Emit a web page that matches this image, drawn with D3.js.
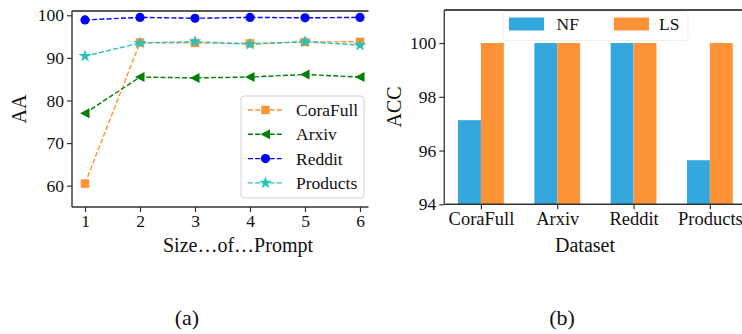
<!doctype html>
<html>

<head>
  <meta charset="utf-8">
  <title>AA and ACC</title>
  <style>
    body { margin: 0; background: #fff; }
    text { font-family: "Liberation Serif", "DejaVu Serif", serif; fill: #111; }
  </style>
</head>

<body>
  <script src="https://d3js.org/d3.v7.min.js"></script>
  <script>
    // ---- data (a) ----
    var promptSizes = [1, 2, 3, 4, 5, 6];
    var coraFullAA = [60.5, 93.6, 93.5, 93.4, 93.7, 93.8];
    var arxivAA = [77.0, 85.5, 85.3, 85.5, 86.1, 85.5];
    var redditAA = [98.9, 99.5, 99.3, 99.5, 99.4, 99.5];
    var productsAA = [90.4, 93.5, 93.8, 93.2, 93.8, 93.0];
    var aaTicks = [60, 70, 80, 90, 100];

    // ---- data (b) ----
    var datasets = ['CoraFull', 'Arxiv', 'Reddit', 'Products'];
    var nfAcc = [97.13, 100, 100, 95.64];
    var lsAcc = [100, 100, 100, 100];
    var accTicks = [94, 96, 98, 100];

    var W = 742, H = 334;
    var svg = d3.select('body').append('svg')
      .attr('width', W).attr('height', H);

    var serif = '"Liberation Serif", "DejaVu Serif", serif';

    // ================= (a) line chart =================
    var A = { left: 72, right: 368, top: 11, bottom: 207 };
    var xA = d3.scaleLinear().domain([0.75, 6.25]).range([71.25, 373.75]);
    var yA = d3.scaleLinear().domain([55, 101]).range([A.bottom, A.top]);

    // the subfigure is cut off on the right, like the original
    svg.append('clipPath').attr('id', 'clipA')
      .append('rect').attr('x', 0).attr('y', 0).attr('width', 368.5).attr('height', H);

    var gA = svg.append('g').attr('clip-path', 'url(#clipA)');

    var series = [
      { name: 'CoraFull', vals: coraFullAA, color: '#ff9234', marker: 'square' },
      { name: 'Arxiv', vals: arxivAA, color: '#008000', marker: 'tri' },
      { name: 'Reddit', vals: redditAA, color: '#0000ff', marker: 'circle' },
      { name: 'Products', vals: productsAA, color: '#26c4b8', marker: 'star' }
    ];

    function markerPath(kind) {
      if (kind == 'square') return d3.symbol(d3.symbolSquare, 72)();
      if (kind == 'circle') return d3.symbol(d3.symbolCircle, 66)();
      if (kind == 'star') return d3.symbol(d3.symbolStar, 50)();
      return 'M-5,0L4.5,-5L4.5,5Z';
    }

    var line = d3.line().x(function(d, i) { return xA(promptSizes[i]); }).y(function(d) { return yA(d); });

    series.forEach(function(s) {
      gA.append('path')
        .attr('d', line(s.vals))
        .attr('fill', 'none')
        .attr('stroke', s.color)
        .attr('stroke-width', 1.4)
        .attr('stroke-dasharray', '5,2.2');
      gA.selectAll(null).data(s.vals).enter().append('path')
        .attr('d', markerPath(s.marker))
        .attr('transform', function(d, i) { return 'translate(' + xA(promptSizes[i]) + ',' + yA(d) + ')'; })
        .attr('fill', s.color);
    });

    // spines
    gA.append('line').attr('x1', A.left).attr('x2', 380).attr('y1', A.top).attr('y2', A.top)
      .attr('stroke', '#222').attr('stroke-width', 1.4);
    gA.append('line').attr('x1', A.left).attr('x2', 380).attr('y1', A.bottom).attr('y2', A.bottom)
      .attr('stroke', '#333').attr('stroke-width', 1.4);
    gA.append('line').attr('x1', A.left).attr('x2', A.left).attr('y1', A.top).attr('y2', A.bottom)
      .attr('stroke', '#333').attr('stroke-width', 1.4);

    var axA_x = svg.append('g').attr('transform', 'translate(0,' + A.bottom + ')')
      .call(d3.axisBottom(xA).tickValues(promptSizes).tickSize(5).tickPadding(3).tickFormat(d3.format('d')));
    var axA_y = svg.append('g').attr('transform', 'translate(' + A.left + ',0)')
      .call(d3.axisLeft(yA).tickValues(aaTicks).tickSize(5).tickPadding(3));

    [axA_x, axA_y].forEach(function(ax) {
      ax.attr('font-family', serif).attr('font-size', 17.5);
      ax.select('.domain').remove();
      ax.selectAll('line').attr('stroke', '#333').attr('stroke-width', 1.2);
      ax.selectAll('text').style('font-family', serif).style('font-size', '17.5px').attr('fill', '#111');
    });

    svg.append('text').attr('x', 238).attr('y', 252).attr('text-anchor', 'middle')
      .style('font-size', '20px').text('Size\u2026of\u2026Prompt');
    svg.append('text').attr('transform', 'translate(26,109) rotate(-90)').attr('text-anchor', 'middle')
      .style('font-size', '20px').text('AA');

    // legend (a)
    var legA = svg.append('g');
    legA.append('rect').attr('x', 241).attr('y', 96).attr('width', 123).attr('height', 102)
      .attr('rx', 3).attr('fill', 'rgba(255,255,255,0.85)').attr('stroke', '#d0d0d0');
    series.forEach(function(s, i) {
      var yy = 110 + i * 24.3;
      legA.append('line').attr('x1', 248).attr('x2', 283).attr('y1', yy).attr('y2', yy)
        .attr('stroke', s.color).attr('stroke-width', 1.4).attr('stroke-dasharray', '5,2.2');
      legA.append('path').attr('d', markerPath(s.marker))
        .attr('transform', 'translate(265.5,' + yy + ')').attr('fill', s.color);
      legA.append('text').attr('x', 296).attr('y', yy + 6).style('font-size', '17.5px').text(s.name);
    });

    svg.append('text').attr('x', 187).attr('y', 325).attr('text-anchor', 'middle')
      .style('font-size', '22px').text('(a)');

    // ================= (b) bar chart =================
    var B = { left: 444.3, top: 10, bottom: 204.3 };
    var xB = d3.scaleLinear().domain([-0.48, 3.48]).range([444.3, 746.5]);
    var yB = d3.scaleLinear().domain([94, 101.23]).range([B.bottom, B.top]);
    var barW = 0.3;

    var gB = svg.append('g');
    gB.selectAll('rect.nf').data(nfAcc).enter().append('rect')
      .attr('x', function(d, i) { return xB(i - barW); })
      .attr('width', xB(barW) - xB(0))
      .attr('y', function(d) { return yB(d); })
      .attr('height', function(d) { return yB(94) - yB(d); })
      .attr('fill', '#33a8de');
    gB.selectAll('rect.ls').data(lsAcc).enter().append('rect')
      .attr('x', function(d, i) { return xB(i); })
      .attr('width', xB(barW) - xB(0))
      .attr('y', function(d) { return yB(d); })
      .attr('height', function(d) { return yB(94) - yB(d); })
      .attr('fill', '#fe9236');

    gB.append('line').attr('x1', B.left).attr('x2', W).attr('y1', B.top).attr('y2', B.top)
      .attr('stroke', '#111').attr('stroke-width', 1.4);
    gB.append('line').attr('x1', B.left).attr('x2', W).attr('y1', B.bottom).attr('y2', B.bottom)
      .attr('stroke', '#333').attr('stroke-width', 1.4);
    gB.append('line').attr('x1', B.left).attr('x2', B.left).attr('y1', B.top).attr('y2', B.bottom)
      .attr('stroke', '#444').attr('stroke-width', 1.4);

    var axB_x = svg.append('g').attr('transform', 'translate(0,' + B.bottom + ')')
      .call(d3.axisBottom(xB).tickValues([0, 1, 2, 3]).tickSize(5).tickPadding(3)
        .tickFormat(function(d) { return datasets[d]; }));
    var axB_y = svg.append('g').attr('transform', 'translate(' + B.left + ',0)')
      .call(d3.axisLeft(yB).tickValues(accTicks).tickSize(5).tickPadding(3));

    [axB_x, axB_y].forEach(function(ax) {
      ax.attr('font-family', serif);
      ax.select('.domain').remove();
      ax.selectAll('line').attr('stroke', '#333').attr('stroke-width', 1.2);
      ax.selectAll('text').style('font-family', serif).style('font-size', '17.5px').attr('fill', '#111');
    });
    axB_x.selectAll('text').style('font-size', '18.5px');

    svg.append('text').attr('x', 585).attr('y', 252).attr('text-anchor', 'middle')
      .style('font-size', '20px').text('Dataset');
    svg.append('text').attr('transform', 'translate(401,107) rotate(-90)').attr('text-anchor', 'middle')
      .style('font-size', '20px').text('ACC');

    // legend (b)
    var legB = svg.append('g');
    legB.append('rect').attr('x', 503).attr('y', 11.5).attr('width', 185).attr('height', 29)
      .attr('rx', 3).attr('fill', 'rgba(255,255,255,0.85)').attr('stroke', '#eeeeee');
    [['NF', '#33a8de', 509, 556.5], ['LS', '#fe9236', 614, 659]].forEach(function(e) {
      legB.append('rect').attr('x', e[2]).attr('y', 17.5).attr('width', 35).attr('height', 13).attr('fill', e[1]);
      legB.append('text').attr('x', e[3]).attr('y', 30).style('font-size', '17.5px').text(e[0]);
    });

    svg.append('text').attr('x', 562).attr('y', 325).attr('text-anchor', 'middle')
      .style('font-size', '22px').text('(b)');
  </script>
</body>

</html>
